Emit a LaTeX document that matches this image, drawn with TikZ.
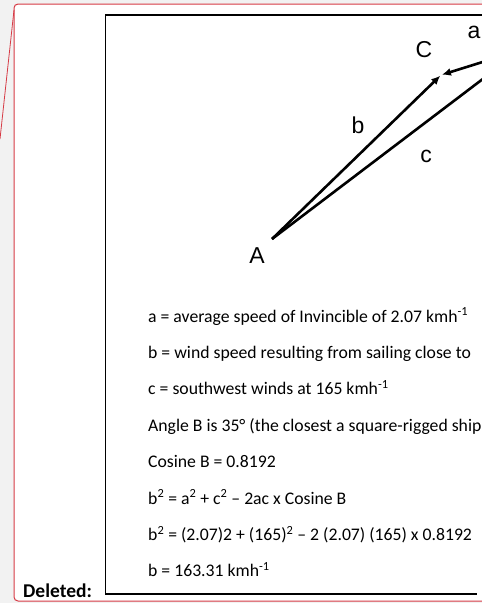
\documentclass[tikz,border=0pt]{standalone}
\usepackage{fontspec}
\setmainfont{Carlito}
\newfontfamily\labelfont{Liberation Sans}
\usetikzlibrary{arrows.meta}
\definecolor{MyRed}{HTML}{D63A45}
\definecolor{MyGray}{HTML}{F2F2F2}

\begin{document}
\begin{tikzpicture}[x=1pt, y=-1pt, every node/.style={inner sep=0pt, black},
	vertex/.style={font=\labelfont\fontsize{23}{27}\selectfont},
	vec/.style={line width=2.6pt, -{Latex[length=9pt, width=8pt]}, shorten >=1pt}]
			\useasboundingbox (0,0) rectangle (482,603);
			\clip (0,0) rectangle (482,603);
			\fill[MyGray] (0,0) rectangle (482,603);
			\draw[MyRed, fill=white, line width=1pt, rounded corners=4pt] (14,4) rectangle (500,601);
			\draw[MyRed, line width=0.8pt] (14,10) -- (0,139);
			\draw[line width=1.4pt] (490,15) -- (105.5,15) -- (105.5,594) -- (477,594);
			
			\coordinate (A) at (272,239);
			\coordinate (C) at (441,75);
			\coordinate (B) at (521,50);
			\draw[vec] (A) -- (C);
			\draw[vec] (B) -- (C);
			\draw[line width=2.6pt] (A) -- (B);
			
			\node[vertex] (labA) at (257,256) {A};
			\node[vertex] (labC) at (424,50) {C};
			\node[vertex] (labb) at (358,125) {b};
			\node[vertex] (labc) at (426,156) {c};
			\node[vertex] (laba) at (474,32) {a};
			
			\foreach \txt [count=\i] in {
				{a = average speed of Invincible of 2.07 kmh\textsuperscript{-1}},
				{b = wind speed resulting from sailing close to},
				{c = southwest winds at 165 kmh\textsuperscript{-1}},
				{Angle B is 35° (the closest a square-rigged ship},
				{Cosine B = 0.8192},
				{b\textsuperscript{2} = a\textsuperscript{2} + c\textsuperscript{2} – 2ac x Cosine B},
				{b\textsuperscript{2} = (2.07)2 + (165)\textsuperscript{2} – 2 (2.07) (165) x 0.8192},
				{b = 163.31 kmh\textsuperscript{-1}}}{
			\node[anchor=base west, font=\fontsize{17.7}{21}\selectfont] (line\i) at (148, {322+36.4*(\i-1)}) {\txt};}
			
			\node[anchor=base west, font=\bfseries\fontsize{19.5}{23}\selectfont] (deleted) at (23,597) {Deleted:};
		\end{tikzpicture}
\end{document}
